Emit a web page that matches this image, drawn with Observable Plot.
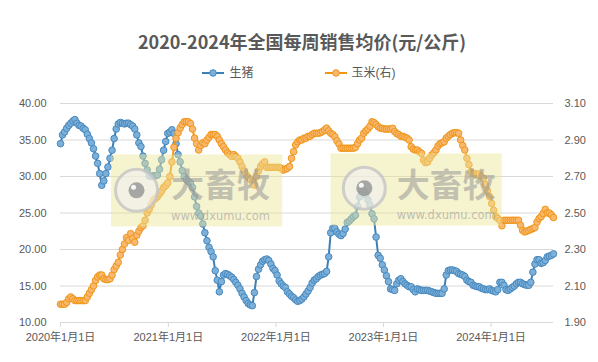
<!DOCTYPE html>
<html><head><meta charset="utf-8">
<script src="https://cdn.jsdelivr.net/npm/d3@7"></script>
<script src="https://cdn.jsdelivr.net/npm/@observablehq/plot@0.6"></script>
<style>
body{margin:0;background:#fff;font-family:"Liberation Sans","Noto Sans CJK SC",sans-serif;}
#wrap{position:relative;width:598px;height:362px;overflow:hidden;background:#fff;}
#title{position:absolute;left:0;top:29px;width:598px;padding-left:6px;box-sizing:border-box;text-align:center;font-family:"Noto Sans CJK SC",sans-serif;font-size:18px;font-weight:bold;color:#595959;line-height:24px;}
#legend{position:absolute;left:0;top:65px;width:598px;height:16px;display:flex;justify-content:center;align-items:center;gap:71px;font-size:12px;color:#595959;}
#legend .item{display:flex;align-items:center;gap:5px;line-height:16px;}
#chart{position:absolute;left:0;top:90px;}
</style></head><body>
<div id="wrap"><div id="title"></div><div id="legend"></div><div id="chart"></div></div>
<script>
const chartTitle = "2020-2024年全国每周销售均价(元/公斤)";
const seriesNames = ["生猪", "玉米(右)"];
const startDate = "2020-01-01"; // first weekly observation
const pigPrice = [
 34.5, 35.7, 36.1, 36.6, 37.0, 37.3, 37.6, 37.8, 37.3, 37.0,
 36.9, 36.6, 36.4, 35.8, 35.2, 34.6, 33.8, 32.8, 31.8, 30.4,
 28.8, 29.4, 30.4, 31.3, 32.5, 33.6, 35.2, 36.5, 37.2, 37.4,
 37.3, 37.2, 37.3, 37.3, 37.1, 36.9, 36.5, 35.7, 34.6, 34.1,
 32.8, 31.8, 30.9, 30.1, 30.0, 30.1, 30.1, 30.2, 31.0, 32.3,
 33.6, 34.8, 35.9, 36.1, 36.4, 35.9, 34.5, 33.0, 32.0, 30.8,
 30.0, 29.6, 29.3, 29.1, 28.5, 27.2, 25.9, 25.0, 24.6, 23.5,
 22.3, 21.2, 20.3, 19.7, 19.0, 17.1, 15.8, 14.2, 15.6, 16.5,
 16.7, 16.6, 16.4, 16.2, 15.9, 15.5, 15.1, 14.6, 14.0, 13.5,
 13.0, 12.6, 12.4, 12.3, 14.1, 16.3, 17.3, 17.9, 18.4, 18.6,
 18.7, 18.5, 18.0, 17.4, 17.1, 16.5, 15.7, 15.3, 15.0, 14.8,
 14.2, 13.9, 13.6, 13.4, 13.1, 12.9, 13.0, 13.2, 13.5, 13.9,
 14.3, 14.8, 15.4, 15.8, 16.0, 16.3, 16.5, 16.6, 16.7, 17.0,
 19.0, 22.3, 22.9, 22.9, 22.4, 22.1, 21.9, 22.2, 22.8, 23.7,
 23.9, 24.2, 24.5, 24.7, 25.9, 27.2, 27.9, 28.1, 27.5, 26.8,
 26.1, 24.9, 24.2, 21.7, 19.2, 18.8, 17.9, 17.2, 16.4, 15.6,
 14.6, 14.5, 14.4, 15.3, 15.8, 16.0, 15.6, 15.3, 15.1, 14.9,
 14.9, 14.5, 14.2, 14.6, 14.5, 14.4, 14.4, 14.4, 14.4, 14.3,
 14.2, 14.1, 14.0, 14.0, 14.0, 14.0, 14.6, 16.5, 17.1, 17.2,
 17.2, 17.1, 17.0, 16.7, 16.6, 16.5, 16.3, 15.8, 15.6, 15.5,
 15.1, 15.0, 14.9, 14.9, 14.7, 14.6, 14.5, 14.5, 14.6, 14.4,
 14.3, 14.2, 14.5, 15.5, 15.5, 15.1, 14.5, 14.4, 14.6, 14.8,
 15.0, 15.3, 15.5, 15.5, 15.3, 15.2, 15.1, 15.1, 15.5, 16.9,
 18.0, 18.6, 18.6, 18.1, 18.2, 18.5, 19.0, 19.1, 19.2, 19.4
];
const cornPrice = [
 2.00, 2.00, 2.00, 2.01, 2.03, 2.04, 2.03, 2.02, 2.02, 2.02,
 2.02, 2.02, 2.02, 2.04, 2.06, 2.08, 2.10, 2.13, 2.15, 2.16,
 2.16, 2.14, 2.135, 2.135, 2.14, 2.16, 2.19, 2.21, 2.23, 2.27,
 2.30, 2.33, 2.365, 2.35, 2.387, 2.36, 2.34, 2.378, 2.40, 2.42,
 2.43, 2.46, 2.50, 2.52, 2.545, 2.57, 2.58, 2.59, 2.605, 2.62,
 2.64, 2.65, 2.665, 2.70, 2.78, 2.86, 2.91, 2.94, 2.965, 2.985,
 3.00, 3.00, 3.00, 2.99, 2.96, 2.91, 2.88, 2.845, 2.87, 2.885,
 2.88, 2.90, 2.915, 2.93, 2.93, 2.93, 2.92, 2.90, 2.88, 2.863,
 2.845, 2.83, 2.82, 2.81, 2.82, 2.81, 2.80, 2.78, 2.755, 2.73,
 2.71, 2.695, 2.685, 2.67, 2.653, 2.70, 2.73, 2.755, 2.77, 2.78,
 2.75, 2.75, 2.75, 2.75, 2.75, 2.75, 2.75, 2.745, 2.735, 2.74,
 2.745, 2.755, 2.80, 2.836, 2.873, 2.89, 2.90, 2.90, 2.91, 2.91,
 2.92, 2.92, 2.93, 2.937, 2.937, 2.937, 2.94, 2.946, 2.955, 2.965,
 2.95, 2.937, 2.93, 2.918, 2.896, 2.878, 2.855, 2.855, 2.855, 2.855,
 2.855, 2.855, 2.855, 2.86, 2.88, 2.90, 2.91, 2.937, 2.95, 2.96,
 2.975, 3.00, 2.995, 2.985, 2.973, 2.965, 2.964, 2.96, 2.96, 2.96,
 2.96, 2.964, 2.946, 2.935, 2.93, 2.92, 2.92, 2.915, 2.91, 2.90,
 2.863, 2.85, 2.845, 2.845, 2.835, 2.827, 2.79, 2.776, 2.78, 2.80,
 2.818, 2.83, 2.845, 2.867, 2.88, 2.885, 2.89, 2.91, 2.92, 2.93,
 2.937, 2.94, 2.94, 2.937, 2.90, 2.87, 2.845, 2.80, 2.765, 2.726,
 2.715, 2.715, 2.71, 2.715, 2.70, 2.69, 2.655, 2.621, 2.59, 2.552,
 2.515, 2.48, 2.47, 2.46, 2.43, 2.46, 2.46, 2.46, 2.46, 2.46,
 2.46, 2.46, 2.46, 2.433, 2.405, 2.396, 2.40, 2.405, 2.41, 2.415,
 2.42, 2.45, 2.47, 2.48, 2.497, 2.52, 2.50, 2.50, 2.49, 2.475
];
const leftTicks = [10, 15, 20, 25, 30, 35, 40];
const rightTicks = [1.90, 2.10, 2.30, 2.50, 2.70, 2.90, 3.10];
const xTickYears = [2020, 2021, 2022, 2023, 2024];
const watermarkText = ["大畜牧", "www.dxumu.com"];
const watermarks = [
  {x1: "2020-06-22", x2: "2022-01-24", y1: 23.1, y2: 32.95, logo: "2020-09-15", text: "2021-06-27", ly: 28.1, ty: 28.6, uy: 24.6},
  {x1: "2022-07-07", x2: "2024-02-08", y1: 23.2, y2: 33.1, logo: "2022-10-28", text: "2023-08-02", ly: 28.4, ty: 28.7, uy: 24.7}
];

const colors = {
  pigLine: "#3d80b5", pigFill: "#7cb0d9", pigStroke: "#4789bf",
  cornLine: "#f2960f", cornFill: "#f9b86e", cornStroke: "#f09619"
};

const DAY = 864e5;
const t0 = new Date(startDate + "T00:00:00Z").getTime();
const weekDate = i => new Date(t0 + i * 7 * DAY);
const toLeft = d3.scaleLinear().domain([rightTicks[0], rightTicks[rightTicks.length - 1]]).range([leftTicks[0], leftTicks[leftTicks.length - 1]]);
const pigData = pigPrice.map((v, i) => ({date: weekDate(i), value: v}));
const cornData = cornPrice.map((v, i) => ({date: weekDate(i), value: toLeft(v), raw: v}));
const xTicks = xTickYears.map(y => new Date(Date.UTC(y, 0, 1)));
const wm = watermarks.map(d => ({
  x1: new Date(d.x1 + "T00:00:00Z"), x2: new Date(d.x2 + "T00:00:00Z"), y1: d.y1, y2: d.y2,
  logo: new Date(d.logo + "T00:00:00Z"), text: new Date(d.text + "T00:00:00Z"), ly: d.ly, ty: d.ty, uy: d.uy
}));

document.getElementById("title").textContent = chartTitle;
const legend = document.getElementById("legend");
[[seriesNames[0], colors.pigLine, colors.pigFill, colors.pigStroke], [seriesNames[1], colors.cornLine, colors.cornFill, colors.cornStroke]].forEach(([name, line, fill, stroke]) => {
  const item = document.createElement("div");
  item.className = "item";
  item.innerHTML = `<svg width="22" height="10"><line x1="0" y1="5" x2="22" y2="5" stroke="${line}" stroke-width="2"/><circle cx="11" cy="5" r="3.3" fill="${fill}" stroke="${stroke}"/></svg><span>${name}</span>`;
  legend.appendChild(item);
});

const chart = Plot.plot({
  width: 598, height: 272,
  marginTop: 13, marginBottom: 40, marginLeft: 60, marginRight: 45,
  style: {fontFamily: '"Liberation Sans","Noto Sans CJK SC",sans-serif', fontSize: "11px", color: "#595959", background: "white", overflow: "visible"},
  x: {type: "utc", domain: [pigData[0].date, pigData[pigData.length - 1].date]},
  y: {domain: [leftTicks[0], leftTicks[leftTicks.length - 1]]},
  marks: [
    Plot.gridY({ticks: leftTicks, stroke: "#d9d9d9", strokeOpacity: 1}),
    Plot.axisY({ticks: leftTicks, anchor: "left", tickSize: 0, tickPadding: 14, tickFormat: d => d.toFixed(2), label: null, fill: "#595959"}),
    Plot.axisY({ticks: rightTicks.map(toLeft), anchor: "right", tickSize: 0, tickPadding: 11, tickFormat: d => toLeft.invert(d).toFixed(2), label: null, fill: "#595959"}),
    Plot.axisX({ticks: xTicks, tickSize: 5, tickPadding: 6, stroke: "#d9d9d9", fill: "#595959", tickFormat: d => `${d.getUTCFullYear()}年1月1日`, label: null}),
    Plot.line(pigData, {x: "date", y: "value", stroke: colors.pigLine, strokeWidth: 2}),
    Plot.dot(pigData, {x: "date", y: "value", r: 3.3, fill: colors.pigFill, stroke: colors.pigStroke, strokeWidth: 1}),
    Plot.line(cornData, {x: "date", y: "value", stroke: colors.cornLine, strokeWidth: 2}),
    Plot.dot(cornData, {x: "date", y: "value", r: 3.3, fill: colors.cornFill, stroke: colors.cornStroke, strokeWidth: 1}),
    // watermark overlay
    Plot.rect(wm, {x1: "x1", x2: "x2", y1: "y1", y2: "y2", fill: "#ebe595", fillOpacity: 0.45}),
    Plot.dot(wm, {x: "logo", y: "ly", r: 21, fill: "#f0f0f0", fillOpacity: 0.6, stroke: "#c4c4c4", strokeWidth: 3, strokeOpacity: 0.8}),
    Plot.dot(wm, {x: "logo", y: "ly", r: 8, fill: "#8c8c8c", fillOpacity: 0.75}),
    Plot.dot(wm, {x: "logo", y: "ly", r: 2.5, dx: -3, dy: -3, fill: "#ffffff", fillOpacity: 0.9}),
    Plot.text(wm, {x: "text", y: "ty", text: () => watermarkText[0], fontSize: 33, fontWeight: "bold", fill: "#8f8f8f", fillOpacity: 0.5, fontFamily: '"Noto Sans CJK SC",sans-serif'}),
    Plot.text(wm, {x: "text", y: "uy", text: () => watermarkText[1], fontSize: 11.5, fill: "#9a9a9a", fillOpacity: 0.6, fontFamily: '"DejaVu Sans",sans-serif', style: "letter-spacing:1px"})
  ]
});
document.getElementById("chart").appendChild(chart);
</script>
</body></html>
